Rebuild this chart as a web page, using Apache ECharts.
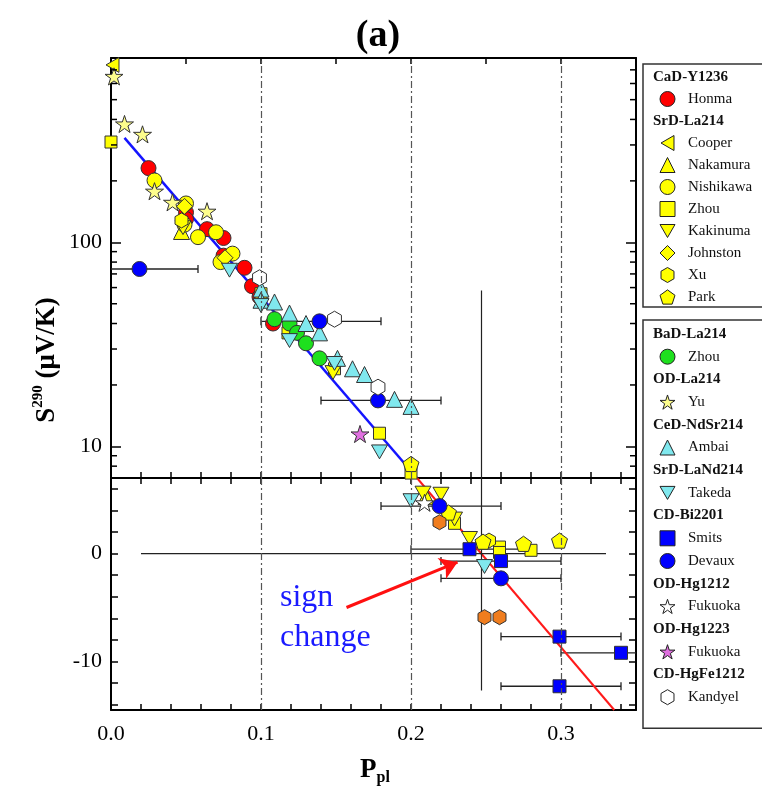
<!DOCTYPE html>
<html>
<head>
<meta charset="utf-8">
<script src="https://cdn.jsdelivr.net/npm/echarts@6/dist/echarts.min.js"></script>
<style>
  html, body { margin: 0; padding: 0; background: #fff; }
  #chart { width: 762px; height: 797px; }
</style>
</head>
<body>
<div id="chart"></div>
<script>
// values: [P_pl, S290]
// S >= 7 goes to the upper (log) panel, S < 7 to the lower (linear) one
const honma = [[0.025, 231], [0.05, 140], [0.05, 130], [0.064, 116], [0.075, 105], [0.075, 86], [0.089, 75], [0.094, 61], [0.099, 54], [0.108, 40]]
const cooper = [[0.001, 740]]
const nakamura = [[0.047, 113], [0.21, 5.3]]
const nishikawa = [[0.029, 201], [0.05, 155], [0.049, 122], [0.058, 106], [0.07, 112], [0.081, 88], [0.073, 80]]
const zhouSr = [[0.0, 310], [0.1, 56], [0.118, 36], [0.149, 24], [0.179, 11.6], [0.2, 7.4], [0.229, 2.8], [0.259, 0.6], [0.259, 0.1], [0.28, 0.3]]
const kakinuma = [[0.048, 118], [0.148, 23], [0.208, 5.6], [0.22, 5.5], [0.229, 3.2], [0.239, 1.4]]
const johnston = [[0.049, 150], [0.076, 84]]
const xu = [[0.047, 128], [0.252, 1.2]]
const park = [[0.2, 8.2], [0.225, 3.8], [0.248, 1.1], [0.275, 0.9], [0.299, 1.2]]
const zhouBa = [[0.109, 42], [0.119, 40], [0.124, 36], [0.13, 32], [0.139, 27]]
const yu = [[0.002, 650], [0.009, 380], [0.021, 338], [0.029, 178], [0.041, 157], [0.064, 142]]
const ambai = [[0.1, 59], [0.1, 52], [0.109, 51], [0.119, 45], [0.13, 40], [0.139, 36], [0.151, 27], [0.161, 24], [0.169, 22.5], [0.189, 17], [0.2, 15.7]]
const takeda = [[0.079, 73], [0.1, 49], [0.119, 33], [0.149, 25.5], [0.179, 9.4], [0.2, 4.9], [0.249, -1.2]]
const smits = [[0.239, 0.4], [0.26, -0.7], [0.299, -7.7], [0.34, -9.2], [0.299, -12.3]]
const devaux = [[0.019, 74], [0.139, 41], [0.178, 16.8], [0.219, 4.4], [0.26, -2.3]]
const fukuokaHg1212 = [[0.209, 4.7]]
const fukuokaHg1223 = [[0.166, 11.5]]
const kandyel = [[0.099, 67], [0.149, 42], [0.178, 19.5]]
const unlabelled = [[0.219, 2.9], [0.249, -5.9], [0.259, -5.9]]

// horizontal error bars: [from, to, S]
const errBars = [[-0.02, 0.058, 74], [0.1, 0.18, 41], [0.14, 0.22, 16.8], [0.18, 0.26, 4.4], [0.2, 0.28, 0.4],
    [0.22, 0.3, -0.7], [0.22, 0.3, -2.3], [0.26, 0.34, -7.7], [0.3, 0.38, -9.2], [0.26, 0.34, -12.3]]

const blueFit = [[0.009, 325], [0.204, 7]]
const redFit = [[0.204, 7], [0.3355, -14.5]]
const zeroLine = [[0.02, 0], [0.33, 0]]
const crossLine = [[0.247, 58], [0.247, 7], [0.247, -12.7]]
const arrow = [[0.157, -5], [0.231, -0.8]]
const guideX = [0.1, 0.2, 0.3]

const xLabels = [0, 0.1, 0.2, 0.3]
const logLabels = [10, 100]
const logMinorTicks = [8, 9, 20, 30, 40, 50, 60, 70, 80, 90, 200, 300, 400, 500, 600, 700]
const linTicks = [-14, -12, -10, -8, -6, -4, -2, 0, 2, 4, 6]
const linLabels = [-10, 0]

const SPLIT = 7
const serif = 'Liberation Serif'

const star = 'path://M50,0 L61.2,34.5 L97.6,34.5 L68.2,55.9 L79.4,90.5 L50,69.1 L20.6,90.5 L31.8,55.9 L2.4,34.5 L38.8,34.5 Z'
const pentagon = 'path://M50,0 L97.6,34.5 L79.4,90.5 L20.6,90.5 L2.4,34.5 Z'
const hexagon = 'path://M50,0 L93.3,25 L93.3,75 L50,100 L6.7,75 L6.7,25 Z'
const triDown = 'path://M0,0 L100,0 L50,86.6 Z'
const triLeft = 'path://M86.6,0 L86.6,100 L0,50 Z'

const markers = [
    {name: 'Honma', data: honma, symbol: 'circle', size: 15, color: '#ff0000'},
    {name: 'Cooper', data: cooper, symbol: triLeft, size: 15, color: '#ffff00'},
    {name: 'Nakamura', data: nakamura, symbol: 'triangle', size: 16, color: '#ffff00'},
    {name: 'Nishikawa', data: nishikawa, symbol: 'circle', size: 15, color: '#ffff00'},
    {name: 'Zhou', data: zhouSr, symbol: 'rect', size: 12, color: '#ffff00'},
    {name: 'Kakinuma', data: kakinuma, symbol: triDown, size: 16, color: '#ffff00'},
    {name: 'Johnston', data: johnston, symbol: 'diamond', size: 16, color: '#ffff00'},
    {name: 'Xu', data: xu, symbol: hexagon, size: 15, color: '#ffff00'},
    {name: 'Park', data: park, symbol: pentagon, size: 16, color: '#ffff00'},
    {name: 'Zhou ', data: zhouBa, symbol: 'circle', size: 15, color: '#1ee01e'},
    {name: 'Yu', data: yu, symbol: star, size: 18, color: '#fdfd8c'},
    {name: 'Ambai', data: ambai, symbol: 'triangle', size: 16, color: '#80e8ee'},
    {name: 'Takeda', data: takeda, symbol: triDown, size: 16, color: '#80e8ee'},
    {name: 'Smits', data: smits, symbol: 'rect', size: 13, color: '#0000ff'},
    {name: 'Devaux', data: devaux, symbol: 'circle', size: 15, color: '#0000ff'},
    {name: 'Fukuoka', data: fukuokaHg1212, symbol: star, size: 18, color: '#ffffff'},
    {name: 'Fukuoka ', data: fukuokaHg1223, symbol: star, size: 18, color: '#e070e0'},
    {name: 'Kandyel', data: kandyel, symbol: hexagon, size: 16, color: '#ffffff'},
    {name: 'other', data: unlabelled, symbol: hexagon, size: 15, color: '#f07d1e'}
]

const headers = ['CaD-Y1236', 'SrD-La214', 'BaD-La214', 'OD-La214', 'CeD-NdSr214', 'SrD-LaNd214',
    'CD-Bi2201', 'OD-Hg1212', 'OD-Hg1223', 'CD-HgFe1212']
const legend1 = ['CaD-Y1236', 'Honma', 'SrD-La214', 'Cooper', 'Nakamura', 'Nishikawa', 'Zhou', 'Kakinuma', 'Johnston', 'Xu', 'Park']
const legend2 = ['BaD-La214', 'Zhou ', 'OD-La214', 'Yu', 'CeD-NdSr214', 'Ambai', 'SrD-LaNd214', 'Takeda',
    'CD-Bi2201', 'Smits', 'Devaux', 'OD-Hg1212', 'Fukuoka', 'OD-Hg1223', 'Fukuoka ', 'CD-HgFe1212', 'Kandyel']

function topPart(pts) { return pts.filter(p => p[1] >= SPLIT) }
function bottomPart(pts) { return pts.filter(p => p[1] < SPLIT) }
function near(v, list) { return list.find(t => Math.abs(v - t) < 1e-6) }

function xAx(grid, position, step, labels) {
    return {
        type: 'value', gridIndex: grid, position, min: 0, max: 0.35, interval: step,
        axisLine: {show: true, onZero: false, lineStyle: {color: '#000', width: 2}},
        axisTick: {show: true, inside: true, length: 6, lineStyle: {color: '#000', width: 1.5}},
        axisLabel: {
            show: labels, margin: 13, fontFamily: serif, fontSize: 22, color: '#000',
            formatter: v => near(v, xLabels) !== undefined ? v.toFixed(1) : ''
        },
        splitLine: {show: false}
    }
}

function logAx(position, labels) {
    return {
        type: 'log', logBase: 10, gridIndex: 0, position, min: 7, max: 800,
        axisLine: {show: true, onZero: false, lineStyle: {color: '#000', width: 2}},
        axisTick: {show: true, inside: true, length: 10, lineStyle: {color: '#000', width: 1.5}},
        axisLabel: {
            show: labels, margin: 9, fontFamily: serif, fontSize: 22, color: '#000',
            showMinLabel: false, showMaxLabel: false,
            formatter: v => { const t = near(v, logLabels); return t !== undefined ? String(t) : '' }
        },
        splitLine: {show: false}, minorTick: {show: false}
    }
}

function linAx(position, labels) {
    return {
        type: 'value', gridIndex: 1, position, min: -14.5, max: 7,
        axisLine: {show: true, onZero: false, lineStyle: {color: '#000', width: 2}},
        axisTick: {show: true, inside: true, length: 7, customValues: linTicks, lineStyle: {color: '#000', width: 1.5}},
        axisLabel: {show: labels, margin: 9, fontFamily: serif, fontSize: 22, color: '#000', customValues: linLabels},
        splitLine: {show: false}
    }
}

function errBar(params, api) {
    const y = api.value(2)
    const a = api.coord([api.value(0), y])
    const b = api.coord([api.value(1), y])
    const st = {stroke: '#222', lineWidth: 1.3}
    return {type: 'group', children: [
        {type: 'line', shape: {x1: a[0], y1: a[1], x2: b[0], y2: b[1]}, style: st},
        {type: 'line', shape: {x1: a[0], y1: a[1] - 4, x2: a[0], y2: a[1] + 4}, style: st},
        {type: 'line', shape: {x1: b[0], y1: b[1] - 4, x2: b[0], y2: b[1] + 4}, style: st}
    ]}
}

function minorTicks(params, api) {
    const y = api.coord([0, api.value(1)])[1]
    const cs = params.coordSys
    const st = {stroke: '#000', lineWidth: 1.5}
    return {type: 'group', children: [
        {type: 'line', shape: {x1: cs.x, y1: y, x2: cs.x + 6, y2: y}, style: st},
        {type: 'line', shape: {x1: cs.x + cs.width - 6, y1: y, x2: cs.x + cs.width, y2: y}, style: st}
    ]}
}

const guideStyle = {type: [7, 3, 2, 3], color: '#555', width: 1.2}
const guides = {
    silent: true, symbol: 'none', label: {show: false}, lineStyle: guideStyle,
    data: guideX.map(x => ({xAxis: x}))
}

const series = []

// fit lines, guides and bars under the markers
series.push({
    type: 'line', xAxisIndex: 0, yAxisIndex: 0, data: blueFit, symbol: 'none', z: 1,
    lineStyle: {color: '#1414ff', width: 2.5}, markLine: guides
})
series.push({
    type: 'line', xAxisIndex: 2, yAxisIndex: 2, data: redFit, symbol: 'none', z: 1,
    lineStyle: {color: '#ff1a1a', width: 2}, markLine: guides
})
series.push({
    type: 'line', xAxisIndex: 0, yAxisIndex: 0, data: topPart(crossLine), symbol: 'none', z: 1,
    lineStyle: {color: '#222', width: 1.2}
})
series.push({
    type: 'line', xAxisIndex: 2, yAxisIndex: 2, data: crossLine.filter(p => p[1] <= SPLIT), symbol: 'none', z: 1,
    lineStyle: {color: '#222', width: 1.2}
})
series.push({
    type: 'line', xAxisIndex: 2, yAxisIndex: 2, data: zeroLine, symbol: 'none', z: 1,
    lineStyle: {color: '#222', width: 1.2},
    markLine: {
        silent: true, symbol: ['none', 'arrow'], symbolSize: 17, label: {show: false},
        lineStyle: {color: '#ff1010', width: 3, type: 'solid'},
        data: [[{coord: arrow[0]}, {coord: arrow[1]}]]
    }
})
series.push({
    type: 'custom', xAxisIndex: 0, yAxisIndex: 0, data: errBars.filter(e => e[2] >= SPLIT),
    encode: {x: [0, 1], y: 2}, renderItem: errBar, clip: true, silent: true, z: 1
})
series.push({
    type: 'custom', xAxisIndex: 2, yAxisIndex: 2, data: errBars.filter(e => e[2] < SPLIT),
    encode: {x: [0, 1], y: 2}, renderItem: errBar, clip: true, silent: true, z: 1
})
series.push({
    type: 'custom', xAxisIndex: 0, yAxisIndex: 0, data: logMinorTicks.map(v => [0, v]),
    encode: {x: 0, y: 1}, renderItem: minorTicks, silent: true, z: 5
})

headers.forEach(h => series.push({name: h, type: 'scatter', xAxisIndex: 0, yAxisIndex: 0, data: []}))

markers.forEach(m => {
    const common = {
        name: m.name, type: 'scatter', symbol: m.symbol, symbolSize: m.size, symbolKeepAspect: true, z: 3,
        itemStyle: {color: m.color, borderColor: '#333', borderWidth: 1, opacity: 1}
    }
    series.push(Object.assign({}, common, {xAxisIndex: 0, yAxisIndex: 0, data: topPart(m.data)}))
    series.push(Object.assign({}, common, {xAxisIndex: 2, yAxisIndex: 2, data: bottomPart(m.data)}))
})

function legendItems(list) {
    return list.map(n => headers.includes(n)
        ? {name: n, icon: 'none', textStyle: {fontWeight: 'bold', padding: [0, 0, 0, -27]}}
        : {name: n})
}

function legendBox(top, gap, pad, data) {
    return {
        orient: 'vertical', left: 643, top, padding: pad, itemGap: gap,
        itemWidth: 15, itemHeight: 15, selectedMode: false, symbolKeepAspect: true,
        borderColor: '#333', borderWidth: 1.5, backgroundColor: '#fff',
        textStyle: {fontFamily: serif, fontSize: 15, color: '#111', lineHeight: 18, padding: [0, 0, 0, 8]},
        itemStyle: {borderColor: '#222', borderWidth: 1},
        data: legendItems(data)
    }
}

const chart = echarts.init(document.getElementById('chart'))
chart.setOption({
    animation: false,
    backgroundColor: '#fff',
    title: {
        text: '(a)', left: 373, top: 12, textAlign: 'center',
        textStyle: {fontFamily: serif, fontSize: 38, fontWeight: 'bold', color: '#000'}
    },
    grid: [
        {left: 111, top: 58, width: 525, height: 420, outerBoundsMode: 'none'},
        {left: 111, top: 478, width: 525, height: 232, outerBoundsMode: 'none'}
    ],
    xAxis: [xAx(0, 'bottom', 0.02, false), xAx(0, 'top', 0.05, false), xAx(1, 'bottom', 0.02, true), xAx(1, 'top', 0.02, false)],
    yAxis: [logAx('left', true), logAx('right', false), linAx('left', true), linAx('right', false)],
    legend: [
        legendBox(64, 4, [4, 40, 1, 10], legend1),
        legendBox(320, 4.7, [5, 40, 22, 10], legend2)
    ],
    graphic: [
        {
            type: 'text', x: 47, y: 360, rotation: Math.PI / 2,
            style: {
                text: '{b|S}{s|290}{b| (μV/K)}', align: 'center', verticalAlign: 'middle',
                rich: {
                    b: {fontFamily: serif, fontSize: 27, fontWeight: 'bold', lineHeight: 32, fill: '#000'},
                    s: {fontFamily: serif, fontSize: 15, fontWeight: 'bold', lineHeight: 12, verticalAlign: 'top', fill: '#000'}
                }
            }
        },
        {
            type: 'text', x: 375, y: 770,
            style: {
                text: '{b|P}{s|pl}', align: 'center', verticalAlign: 'middle',
                rich: {
                    b: {fontFamily: serif, fontSize: 27, fontWeight: 'bold', lineHeight: 32, fill: '#000'},
                    s: {fontFamily: serif, fontSize: 16, fontWeight: 'bold', lineHeight: 12, verticalAlign: 'bottom', fill: '#000'}
                }
            }
        },
        {
            type: 'text', x: 280, y: 618,
            style: {
                text: 'sign\nchange', align: 'left', verticalAlign: 'middle',
                fontFamily: serif, fontSize: 32, lineHeight: 40, fill: '#1a1aff'
            }
        }
    ],
    series
})
</script>
</body>
</html>
